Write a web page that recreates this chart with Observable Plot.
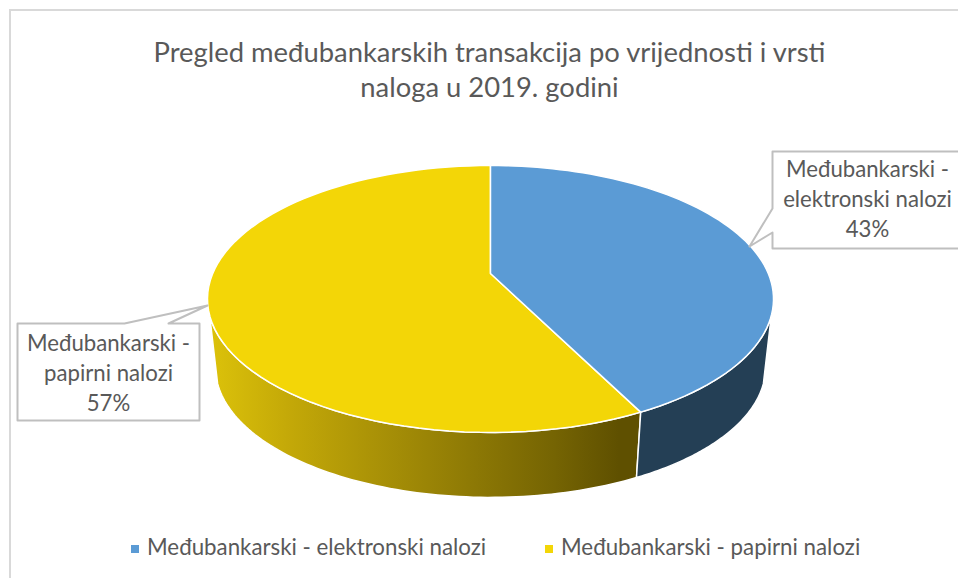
<!DOCTYPE html>
<html>
<head>
<meta charset="utf-8">
<script src="https://cdn.jsdelivr.net/npm/d3@7"></script>
<script src="https://cdn.jsdelivr.net/npm/@observablehq/plot@0.6"></script>
<style>
  html, body { margin: 0; padding: 0; background: #fff; }
  #frame { position: relative; width: 958px; height: 578px; overflow: hidden; font-family: Lato, sans-serif; color: #595959; }
  #frame::before { content: ""; position: absolute; left: 9px; top: 9px; right: -4px; bottom: -4px; border: 2px solid #d9d9d9; }
  #title { position: relative; height: 125px; box-sizing: border-box; padding-top: 34px; padding-left: 21px; text-align: center; font-size: 27.4px; line-height: 35px; }
  #chart { position: relative; height: 395px; }
  #chart svg { display: block; }
  #legend { position: relative; height: 58px; font-size: 22.3px; line-height: 24px; }
  #legend span { position: absolute; top: 15px; white-space: nowrap; }
  #legend i { position: absolute; top: 25px; width: 8px; height: 8px; }
</style>
</head>
<body>
<div id="frame">
  <div id="title"></div>
  <div id="chart"></div>
  <div id="legend"></div>
</div>
<script>
const titleLines = ["Pregled međubankarskih transakcija po vrijednosti i vrsti", "naloga u 2019. godini"];
const categories = ["Međubankarski - elektronski nalozi", "Međubankarski - papirni nalozi"];
const labelLines = [["Međubankarski -", "elektronski nalozi"], ["Međubankarski -", "papirni nalozi"]];
const shares = [42.6, 57.4];
const sliceColors = ["#5B9BD5", "#F3D607"];
const legendTextX = [147, 561];
const legendSwatchX = [131, 545];

// Perspective of the pie: top and bottom discs, and the angle of the visible side's edge
const topDisc = {cx: 490, cy: 273, a: 277.8, b: 128.6, k: -0.191};
const bottomDisc = {cx: 490, cy: 342, a: 270, b: 125.3, k: -0.191};
const silhouette = 108;

// Callout boxes: box corners, and where the pointer meets the box
const calloutBoxes = [
  {x0: 772, x1: 962, y0: 151, y1: 248, tip: [749, 246], base: [[772, 232], [772, 208]], tx: 867, ty: 169},
  {x0: 17, x1: 199, y0: 323, y1: 420, tip: [207, 305], base: [[124, 323], [168, 323]], tx: 108, ty: 343}
];

function project(deg, d) {
  const t = deg * Math.PI / 180, u = Math.sin(t), v = -Math.cos(t), w = 1 + d.k * v;
  return {x: d.cx + d.a * u / w, y: d.cy + d.b * v / w};
}
const arc = (a0, a1, d) => d3.range(0, 81).map(i => project(a0 + (a1 - a0) * i / 80, d));

const total = d3.sum(shares);
const breakDeg = shares[0] / total * 360;
const blueTop = [{x: topDisc.cx, y: topDisc.cy}, ...arc(0, breakDeg, topDisc)];
const yellowTop = [{x: topDisc.cx, y: topDisc.cy}, ...arc(breakDeg, 360, topDisc)];
const blueSide = [...arc(silhouette, breakDeg, topDisc), ...arc(breakDeg, silhouette, bottomDisc)];
const yellowSide = [...arc(breakDeg, 360 - silhouette, topDisc), ...arc(360 - silhouette, breakDeg, bottomDisc)];

function calloutPath(c) {
  const pts = c.x0 > c.tip[0]
    ? [[c.x0, c.y0], [c.x1, c.y0], [c.x1, c.y1], [c.x0, c.y1], c.base[0], c.tip, c.base[1]]
    : [[c.x0, c.y0], c.base[0], c.tip, c.base[1], [c.x1, c.y0], [c.x1, c.y1], [c.x0, c.y1]];
  return pts.map(([x, y]) => ({x, y}));
}

const gradient = () => {
  const defs = d3.create("svg:defs");
  const g = defs.append("linearGradient").attr("id", "sideGold");
  [[0, "#DCC20A"], [0.18, "#C4A908"], [0.5, "#9B8506"], [0.8, "#756403"], [0.95, "#5F5000"], [1, "#5F5000"]]
    .forEach(([o, c]) => g.append("stop").attr("offset", o).attr("stop-color", c));
  return defs.node();
};

const lineOpts = (fill) => ({x: "x", y: "y", fill, stroke: "#fff", strokeWidth: 1.5, curve: "linear-closed", strokeLinejoin: "round"});

const labelRows = calloutBoxes.flatMap((c, i) => {
  const rows = [...labelLines[i], `${Math.round(shares[i] / total * 100)}%`];
  return rows.map((text, j) => ({text, x: c.tx, y: c.ty + j * 30}));
});

const plot = Plot.plot({
  width: 958,
  height: 395,
  margin: 0,
  x: {domain: [0, 958], range: [0, 958], axis: null},
  y: {domain: [125, 520], range: [0, 395], axis: null},
  marks: [
    gradient,
    Plot.line(yellowSide, lineOpts("url(#sideGold)")),
    Plot.line(blueSide, lineOpts("#243F55")),
    Plot.line(yellowTop, lineOpts(sliceColors[1])),
    Plot.line(blueTop, lineOpts(sliceColors[0])),
    ...calloutBoxes.map(c => Plot.line(calloutPath(c), {x: "x", y: "y", fill: "#fff", stroke: "#BFBFBF", strokeWidth: 2, curve: "linear-closed"})),
    Plot.text(labelRows, {x: "x", y: "y", text: "text", fontSize: 22.2, fill: "#595959", fontFamily: "Lato, sans-serif"})
  ]
});
plot.style.background = "transparent";
plot.style.overflow = "visible";
document.getElementById("chart").appendChild(plot);

const titleEl = document.getElementById("title");
titleLines.forEach(line => { const d = document.createElement("div"); d.textContent = line; titleEl.appendChild(d); });

const legend = document.getElementById("legend");
categories.forEach((name, i) => {
  const sw = document.createElement("i");
  sw.style.left = legendSwatchX[i] + "px";
  sw.style.background = sliceColors[i];
  legend.appendChild(sw);
  const s = document.createElement("span");
  s.textContent = name;
  s.style.left = legendTextX[i] + "px";
  legend.appendChild(s);
});
</script>
</body>
</html>
